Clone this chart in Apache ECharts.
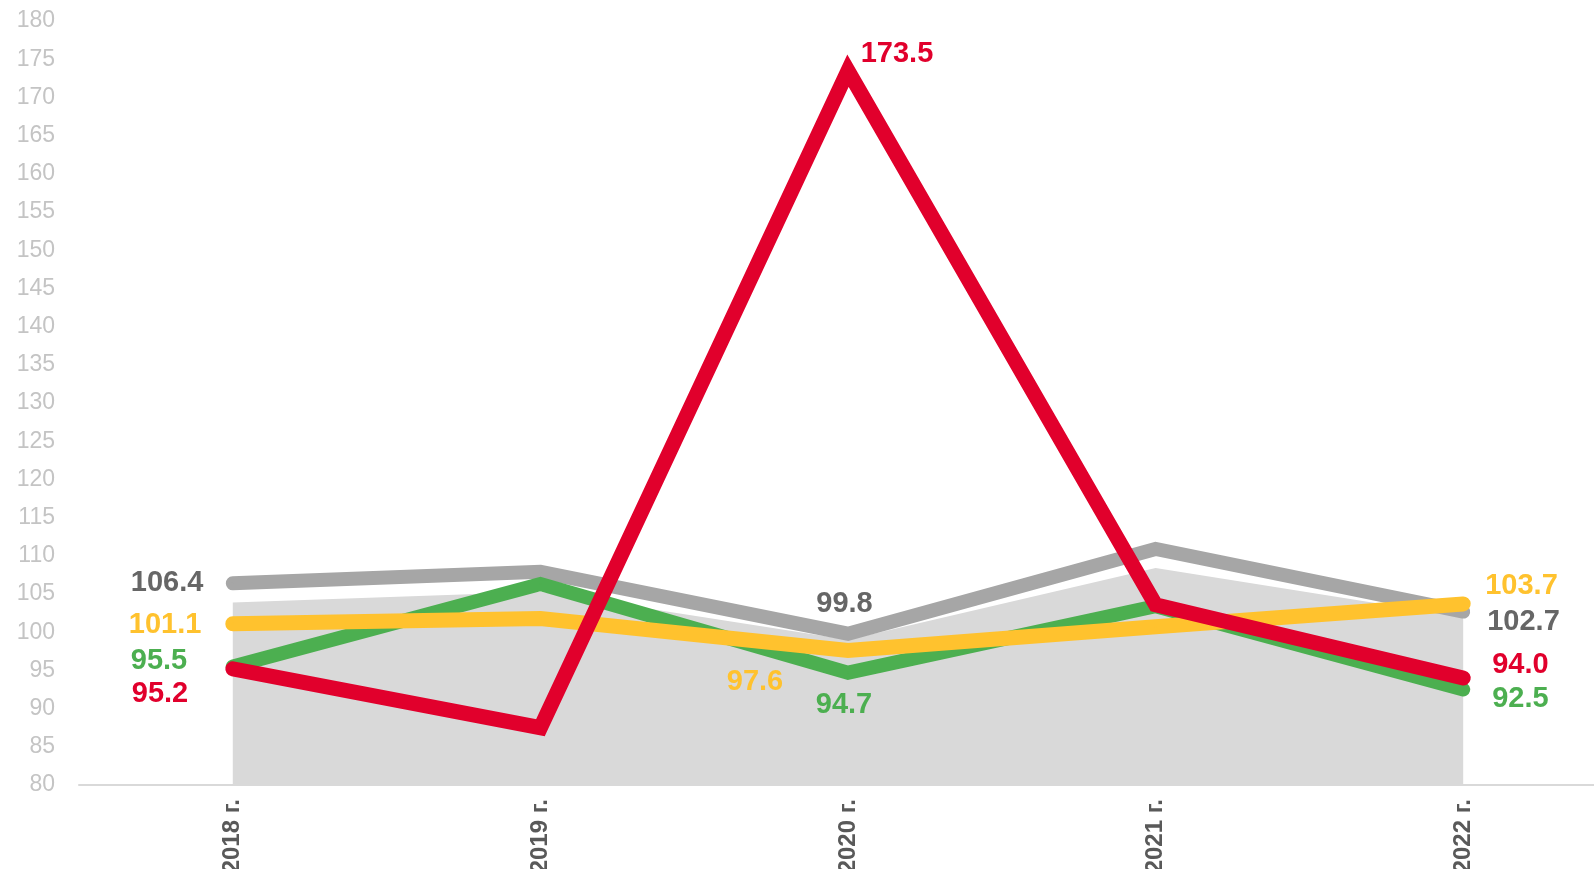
<!DOCTYPE html>
<html lang="ru">
<head>
    <meta charset="UTF-8">
    <title>Индексы 2018-2022</title>
    <script src="https://cdn.jsdelivr.net/npm/echarts@6/dist/echarts.min.js"></script>
    <style>
        html, body { margin: 0; padding: 0; background: #fff; }
        #chart { width: 1594px; height: 869px; }
    </style>
</head>
<body>
<div id="chart"></div>
<script>
    // данные
    var years = ['2018 г.', '2019 г.', '2020 г.', '2021 г.', '2022 г.'];
    var areaValues = [103.9, 105.3, 99.0, 108.4, 102.0];
    var grayValues = [106.4, 107.9, 99.8, 110.9, 102.7];
    var greenValues = [95.5, 106.3, 94.7, 103.4, 92.5];
    var yellowValues = [101.1, 101.8, 97.6, 100.7, 103.7];
    var redValues = [95.2, 87.5, 173.5, 103.6, 94.0];

    var font = '"Liberation Sans", Arial, sans-serif';

    // подпись у точки: смещение от точки и выравнивание
    function lbl(color, dx, dy, align) {
        return {
            show: true,
            position: 'inside',
            offset: [dx, dy + 2],
            align: align || 'center',
            verticalAlign: 'middle',
            color: color,
            fontFamily: font,
            fontWeight: 'bold',
            fontSize: 29,
            formatter: function (p) { return p.value.toFixed(1); }
        };
    }

    function withLabels(values, labels) {
        return values.map(function (v, i) {
            return labels[i] ? {value: v, label: labels[i]} : {value: v, label: {show: false}};
        });
    }

    function lineSeries(name, color, width, data, z) {
        return {
            name: name,
            type: 'line',
            data: data,
            symbol: 'circle',
            symbolSize: 2,
            showSymbol: true,
            showAllSymbol: true,
            z: z,
            silent: true,
            lineStyle: {color: color, width: width, cap: 'round', join: 'miter'},
            itemStyle: {color: color}
        };
    }

    var grayLbl = '#666666', greenC = '#4caf50', yellowC = '#ffc22e', redC = '#e1002c';

    var chart = echarts.init(document.getElementById('chart'));
    chart.setOption({
        animation: false,
        backgroundColor: '#fff',
        grid: {left: 79, right: -23, top: 21, bottom: 84, containLabel: false, outerBoundsMode: 'none'},
        xAxis: {
            type: 'category',
            data: years,
            boundaryGap: true,
            axisLine: {lineStyle: {color: '#d9d9d9', width: 2}},
            axisTick: {show: false},
            axisLabel: {
                rotate: 90,
                margin: 14,
                color: '#595959',
                fontFamily: font,
                fontWeight: 'bold',
                fontSize: 24
            },
            splitLine: {show: false}
        },
        yAxis: {
            type: 'value',
            min: 80,
            max: 180,
            interval: 5,
            axisLine: {show: false},
            axisTick: {show: false},
            splitLine: {show: false},
            axisLabel: {color: '#c4c4c4', fontFamily: font, fontSize: 23, margin: 24, padding: [4, 0, 0, 0]}
        },
        series: [
            {
                name: 'area',
                type: 'line',
                data: areaValues,
                symbol: 'none',
                z: 1,
                silent: true,
                lineStyle: {width: 0},
                areaStyle: {color: '#d9d9d9', opacity: 1}
            },
            lineSeries('gray', '#a6a6a6', 14, withLabels(grayValues, {
                0: lbl(grayLbl, -102, -2, 'left'),
                2: lbl(grayLbl, -3.5, -32),
                4: lbl(grayLbl, 24, 8, 'left')
            }), 2),
            lineSeries('green', greenC, 14, withLabels(greenValues, {
                0: lbl(greenC, -102, -8, 'left'),
                2: lbl(greenC, -4, 30),
                4: lbl(greenC, 29, 7, 'left')
            }), 3),
            lineSeries('yellow', yellowC, 15, withLabels(yellowValues, {
                0: lbl(yellowC, -104, -1, 'left'),
                2: lbl(yellowC, -93, 29.5),
                4: lbl(yellowC, 22, -20, 'left')
            }), 4),
            lineSeries('red', redC, 15, withLabels(redValues, {
                0: lbl(redC, -101, 23, 'left'),
                2: lbl(redC, 49, -19),
                4: lbl(redC, 29, -15, 'left')
            }), 5)
        ]
    });
</script>
</body>
</html>
